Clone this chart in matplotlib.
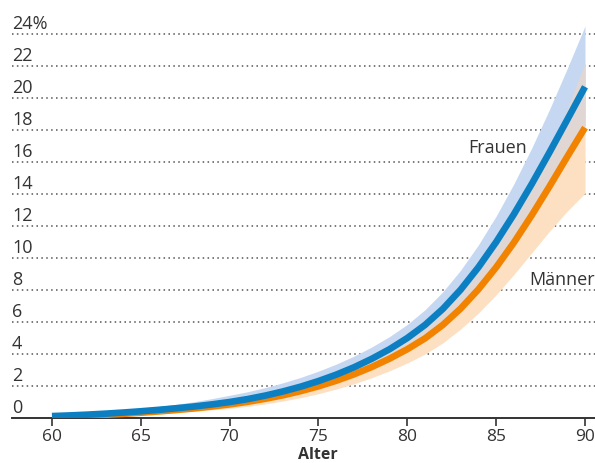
import matplotlib
matplotlib.use('Agg')
import matplotlib.pyplot as plt
import matplotlib.transforms as mtransforms
import numpy as np

# ============================================================
# DATA (in %)
# ============================================================
alter = list(range(60, 91))

frauen = [0.12, 0.16, 0.21, 0.27, 0.34, 0.42, 0.51, 0.61, 0.72, 0.85,
          1.0, 1.18, 1.4, 1.66, 1.96, 2.31, 2.71, 3.17, 3.7, 4.3,
          5.0, 5.82, 6.82, 8.02, 9.42, 11.0, 12.74, 14.62, 16.6, 18.64, 20.7]
frauen_hi = [0.17, 0.23, 0.30, 0.39, 0.49, 0.60, 0.72, 0.86, 1.02, 1.21,
             1.42, 1.64, 1.9, 2.2, 2.54, 2.93, 3.37, 3.87, 4.44, 5.09,
             5.85, 6.77, 7.89, 9.24, 10.82, 12.62, 14.64, 16.87, 19.28, 21.84, 24.5]
frauen_lo = [0.1, 0.13, 0.17, 0.22, 0.28, 0.35, 0.43, 0.53, 0.63, 0.75,
             0.88, 1.04, 1.24, 1.46, 1.73, 2.03, 2.39, 2.8, 3.26, 3.79,
             4.39, 5.08, 5.93, 6.96, 8.17, 9.56, 11.11, 12.81, 14.6, 16.45, 18.25]

maenner = [0.08, 0.11, 0.15, 0.2, 0.26, 0.33, 0.41, 0.5, 0.6, 0.72,
           0.85, 1.01, 1.2, 1.42, 1.68, 1.98, 2.33, 2.73, 3.19, 3.71,
           4.3, 4.98, 5.82, 6.84, 8.04, 9.42, 10.97, 12.67, 14.47, 16.33, 18.15]
maenner_hi = [0.12, 0.16, 0.21, 0.27, 0.34, 0.42, 0.5, 0.6, 0.71, 0.83,
              0.97, 1.15, 1.36, 1.61, 1.9, 2.24, 2.63, 3.08, 3.6, 4.19,
              4.87, 5.66, 6.6, 7.75, 9.1, 10.65, 12.4, 14.4, 16.7, 19.3, 22.2]
maenner_lo = [0.05, 0.07, 0.1, 0.14, 0.18, 0.23, 0.29, 0.35, 0.42, 0.51,
              0.6, 0.73, 0.88, 1.06, 1.27, 1.52, 1.81, 2.14, 2.52, 2.95,
              3.44, 4.0, 4.7, 5.56, 6.56, 7.7, 8.97, 10.32, 11.67, 12.93, 14.05]

y_ticks = [0, 2, 4, 6, 8, 10, 12, 14, 16, 18, 20, 22, 24]
y_labels = ['0', '2', '4', '6', '8', '10', '12', '14', '16', '18', '20', '22', '24%']
x_ticks = [60, 65, 70, 75, 80, 85, 90]

# ============================================================
# COLOURS
# ============================================================
BLUE = '#0b7fc1'
ORANGE = '#f18300'
BLUE_BAND = '#c6d8f1'
ORANGE_BAND = '#fde0c1'
OVERLAP = '#e0d7d5'
TEXT = '#333333'

plt.rcParams['font.family'] = ['Open Sans', 'DejaVu Sans']

fig = plt.figure(figsize=(5.95, 4.63), dpi=100)
ax = fig.add_axes([12 / 595, 1 - 418 / 463, 1 - 12 / 595, 418 / 463])

x = np.array(alter)
f_lo, f_hi = np.array(frauen_lo), np.array(frauen_hi)
m_lo, m_hi = np.array(maenner_lo), np.array(maenner_hi)

# gridlines
for v in y_ticks[1:]:
    ax.axhline(v, color='#555555', lw=1.1, ls=(0, (1, 2.2)), zorder=1)

# bands + overlap
ax.fill_between(x, m_lo, m_hi, color=ORANGE_BAND, lw=0, zorder=2)
ax.fill_between(x, f_lo, f_hi, color=BLUE_BAND, lw=0, zorder=2)
ov_lo = np.maximum(f_lo, m_lo)
ov_hi = np.minimum(f_hi, m_hi)
ax.fill_between(x, ov_lo, ov_hi, where=ov_hi > ov_lo, interpolate=True,
                color=OVERLAP, lw=0, zorder=3)

# lines
ax.plot(x, maenner, color=ORANGE, lw=4.8, solid_capstyle='butt', zorder=4)
ax.plot(x, frauen, color=BLUE, lw=4.8, solid_capstyle='butt', zorder=5)

ax.set_xlim(60 - 40 / 17.77, 90 + 10 / 17.77)
ax.set_ylim(0, 418 / 16)

# axes styling
for s in ['top', 'right', 'left']:
    ax.spines[s].set_visible(False)
ax.spines['bottom'].set_color('#333333')
ax.spines['bottom'].set_linewidth(1.4)
ax.set_yticks([])
ax.set_xticks(x_ticks)
ax.set_xticklabels([str(t) for t in x_ticks], fontsize=12.5, color=TEXT)
ax.tick_params(axis='x', length=6, width=1.2, color='#333333', pad=2)

# y labels sit above their gridlines
trans = mtransforms.blended_transform_factory(ax.transAxes, ax.transData)
for v, lab in zip(y_ticks, y_labels):
    ax.text(0, v + 0.3, lab, transform=trans, ha='left', va='baseline',
            fontsize=13, color=TEXT, zorder=6)

ax.text(83.45, 16.9, 'Frauen', ha='left', va='center', fontsize=13, color=TEXT, zorder=6)
ax.text(86.85, 8.6, 'Männer', ha='left', va='center', fontsize=13, color=TEXT,
        zorder=6, clip_on=False)

fig.text(318 / 595, 1 - 459 / 463, 'Alter', ha='center', va='baseline',
         fontsize=11.5, fontweight='bold', color=TEXT)

fig.savefig('out.png', dpi=100)
